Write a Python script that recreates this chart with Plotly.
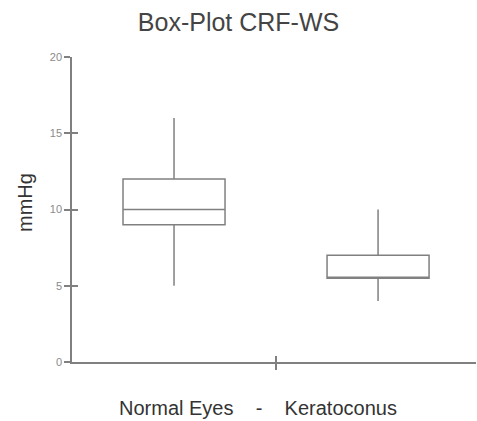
import plotly.graph_objects as go

categories = ["Normal Eyes", "Keratoconus"]
lower_whisker = [5.0, 4.0]
q1_values = [9.0, 5.5]
median_values = [10.0, 5.5]
q3_values = [12.0, 7.0]
upper_whisker = [16.0, 10.0]
y_ticks = [0, 5, 10, 15, 20]

LINE = "#808080"
FONT = "Liberation Sans, Arial, sans-serif"
X_RANGE = [0, 3.96]

fig = go.Figure()
for i, name in enumerate(categories):
    fig.add_trace(go.Box(
        name=name,
        x=[1 + 2 * i],
        q1=[q1_values[i]], median=[median_values[i]], q3=[q3_values[i]],
        lowerfence=[lower_whisker[i]], upperfence=[upper_whisker[i]],
        width=1.0,
        whiskerwidth=0,
        fillcolor="white",
        line=dict(color=LINE, width=1.5),
        boxpoints=False,
        showlegend=False,
        hoverinfo="skip",
    ))

sep = "\u00a0" * 4
xtitle = f"{categories[0]}{sep}-{sep}{categories[1]}"

fig.update_layout(
    width=477, height=421,
    margin=dict(l=72, r=1, t=57, b=59),
    paper_bgcolor="white", plot_bgcolor="white",
    font=dict(family=FONT, color="#444"),
    title=dict(text="Box-Plot CRF-WS", x=0.5, xanchor="center", y=1 - 22 / 421, yanchor="middle",
               font=dict(size=25, color="#444", family=FONT)),
    xaxis=dict(range=X_RANGE, showgrid=False, zeroline=False,
               showline=True, linecolor=LINE, linewidth=1.5,
               ticks="outside", ticklen=6, tickwidth=1.5, tickcolor=LINE,
               tickvals=[2], ticktext=[""],
               fixedrange=True),
    xaxis2=dict(overlaying="x", matches="x", range=X_RANGE, showgrid=False, zeroline=False,
                showline=False, ticks="inside", ticklen=6, tickwidth=1.5, tickcolor=LINE,
                tickvals=[2], showticklabels=False, side="bottom"),
    yaxis=dict(range=[0, 20], showgrid=False, zeroline=False,
               showline=True, linecolor=LINE, linewidth=1.5,
               ticks="outside", ticklen=6, tickwidth=1.5, tickcolor=LINE,
               tickvals=y_ticks, tickfont=dict(size=11, color="#8a8a8a"),
               fixedrange=True),
    yaxis2=dict(overlaying="y", matches="y", range=[0, 20], showgrid=False, zeroline=False,
                showline=False, ticks="inside", ticklen=6, tickwidth=1.5, tickcolor=LINE,
                tickvals=y_ticks, showticklabels=False, side="left"),
    annotations=[
        dict(text=xtitle, xref="paper", yref="paper",
             x=(257.5 - 72) / 404, y=-(408 - 362) / 305,
             xanchor="center", yanchor="middle", showarrow=False,
             font=dict(size=20, color="#333", family=FONT)),
        dict(text="mmHg", xref="paper", yref="paper",
             x=-(72 - 25) / 404, y=(362 - 203) / 305, textangle=-90,
             xanchor="center", yanchor="middle", showarrow=False,
             font=dict(size=20, color="#333", family=FONT)),
    ],
)
# invisible trace to anchor the secondary (inside-tick) axes
fig.add_trace(go.Scatter(x=[None], y=[None], xaxis="x2", yaxis="y2",
                         showlegend=False, hoverinfo="skip"))

fig.write_html("out.html", config={"displayModeBar": False},
               post_script="document.body.style.margin='0';document.body.style.overflow='hidden';")
